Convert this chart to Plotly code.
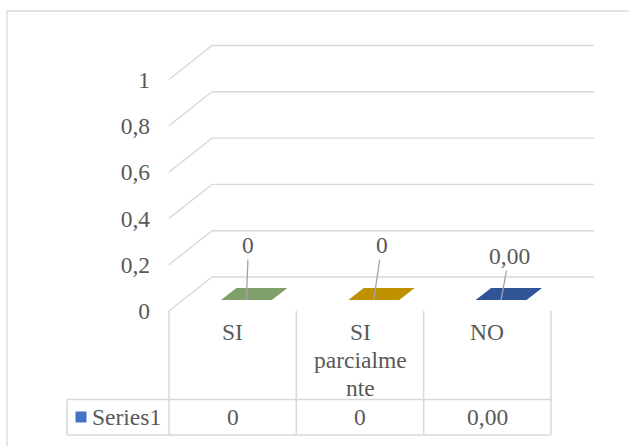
import plotly.graph_objects as go

# ---- data ----
categories = ["SI", "SI parcialmente", "NO"]
category_lines = [["SI"], ["SI", "parcialme", "nte"], ["NO"]]
values = [0, 0, 0]
decimals = [0, 0, 2]
bar_colors = ["#80A06B", "#BF9000", "#2F5597"]
series_name = "Series1"
series_color = "#4472C4"
y_ticks = [0, 0.2, 0.4, 0.6, 0.8, 1]
y_tick_text = ["0", "0,2", "0,4", "0,6", "0,8", "1"]

# ---- style / geometry ----
W, H = 629, 446
FONT = "Liberation Serif"
FSIZE = 23.5
TEXT = "#595959"
GRID = "#D9D9D9"

CAT_PX = 127.33      # width of one category slot
X0_PX = 169          # left edge of first slot
UNIT_PX = 231.5      # pixels per value unit
Y0_PX = 311          # value 0 on the front plane
DX = 43 / CAT_PX     # depth offset of back wall (category units)
DY = 34 / UNIT_PX    # depth offset of back wall (value units)
BAR_W = 0.4
F0, F1 = 0.32, 0.68  # bar front/back within the depth


def px(xp):
    return -0.5 + (xp - X0_PX) / CAT_PX


def py(yp):
    return (Y0_PX - yp) / UNIT_PX


def fmt(v, d):
    return f"{v:.{d}f}".replace(".", ",")


n = len(categories)
fig = go.Figure()

# side wall diagonals + back wall gridlines
gx, gy = [], []
for t in y_ticks:
    gx += [-0.5, -0.5 + DX, n - 0.5 + DX, None]
    gy += [t, t + DY, t + DY, None]
fig.add_trace(go.Scatter(x=gx, y=gy, mode="lines",
                         line=dict(color=GRID, width=1.4),
                         hoverinfo="skip", showlegend=False))

# 3D columns
for i, (v, c) in enumerate(zip(values, bar_colors)):
    xl, xr = i - BAR_W / 2, i + BAR_W / 2
    if v > 0:
        # front face
        fig.add_trace(go.Scatter(
            x=[xl + F0 * DX, xr + F0 * DX, xr + F0 * DX, xl + F0 * DX, xl + F0 * DX],
            y=[F0 * DY, F0 * DY, v + F0 * DY, v + F0 * DY, F0 * DY],
            fill="toself", fillcolor=c, line=dict(width=0), mode="lines",
            hoverinfo="skip", showlegend=False))
        # side face
        fig.add_trace(go.Scatter(
            x=[xr + F0 * DX, xr + F1 * DX, xr + F1 * DX, xr + F0 * DX, xr + F0 * DX],
            y=[F0 * DY, F1 * DY, v + F1 * DY, v + F0 * DY, F0 * DY],
            fill="toself", fillcolor=c, opacity=0.8, line=dict(width=0), mode="lines",
            hoverinfo="skip", showlegend=False))
    # top face
    fig.add_trace(go.Scatter(
        x=[xl + F0 * DX, xr + F0 * DX, xr + F1 * DX, xl + F1 * DX, xl + F0 * DX],
        y=[v + F0 * DY, v + F0 * DY, v + F1 * DY, v + F1 * DY, v + F0 * DY],
        fill="toself", fillcolor=c, line=dict(width=0), mode="lines",
        hoverinfo="skip", showlegend=False))

annotations = []

# data labels with leader lines
label_offsets = [(2, -55), (8, -55), (8, -44)]
for i, v in enumerate(values):
    axo, ayo = label_offsets[i]
    annotations.append(dict(
        x=i + F0 * DX, y=v + F0 * DY, text=fmt(v, decimals[i]),
        showarrow=True, arrowhead=0, arrowwidth=1.3, arrowcolor="#A6A6A6",
        ax=axo, ay=ayo, font=dict(family=FONT, size=FSIZE, color=TEXT)))

# data table grid
ROW1 = py(399.5)
ROW2 = py(435)
LEG_X = px(67)
tx, ty = [], []
for k in range(n + 1):
    tx += [k - 0.5, k - 0.5, None]
    ty += [0, ROW2, None]
tx += [LEG_X, n - 0.5, None, LEG_X, n - 0.5, None, LEG_X, LEG_X, None]
ty += [ROW1, ROW1, None, ROW2, ROW2, None, ROW1, ROW2, None]
fig.add_trace(go.Scatter(x=tx, y=ty, mode="lines",
                         line=dict(color=GRID, width=1.5),
                         hoverinfo="skip", showlegend=False))

# category labels (wrapped as in the table cells)
for i, lines in enumerate(category_lines):
    for k, line in enumerate(lines):
        annotations.append(dict(
            x=i, y=py(332), yshift=-28 * k, text=line, showarrow=False,
            xanchor="center", yanchor="middle",
            font=dict(family=FONT, size=FSIZE, color=TEXT)))

# data row
ROW_Y = py(417)
for i, v in enumerate(values):
    annotations.append(dict(
        x=i, y=ROW_Y, text=fmt(v, decimals[i]), showarrow=False,
        xanchor="center", yanchor="middle",
        font=dict(family=FONT, size=FSIZE, color=TEXT)))

# legend key + series name
fig.add_trace(go.Scatter(x=[px(81)], y=[ROW_Y], mode="markers",
                         marker=dict(symbol="square", size=11, color=series_color),
                         hoverinfo="skip", showlegend=False))
annotations.append(dict(
    x=px(90), y=ROW_Y, text=series_name, showarrow=False,
    xanchor="left", yanchor="middle",
    font=dict(family=FONT, size=FSIZE, color=TEXT)))

fig.update_layout(
    width=W, height=H,
    margin=dict(l=0, r=0, t=0, b=0),
    paper_bgcolor="white", plot_bgcolor="white",
    showlegend=False,
    font=dict(family=FONT, size=FSIZE, color=TEXT),
    annotations=annotations,
    shapes=[dict(type="rect", xref="paper", yref="paper",
                 x0=7 / W, x1=1.05, y0=-0.05, y1=1 - 11 / H,
                 line=dict(color=GRID, width=1.3))],
    xaxis=dict(range=[px(0), px(W)], visible=False, fixedrange=True),
    yaxis=dict(range=[py(H), py(0)], showgrid=False, zeroline=False,
               showline=False, ticks="", anchor="free", position=150 / W,
               side="left", tickvals=y_ticks, ticktext=y_tick_text,
               tickfont=dict(family=FONT, size=FSIZE, color=TEXT),
               fixedrange=True),
)

fig.write_html("out.html")
